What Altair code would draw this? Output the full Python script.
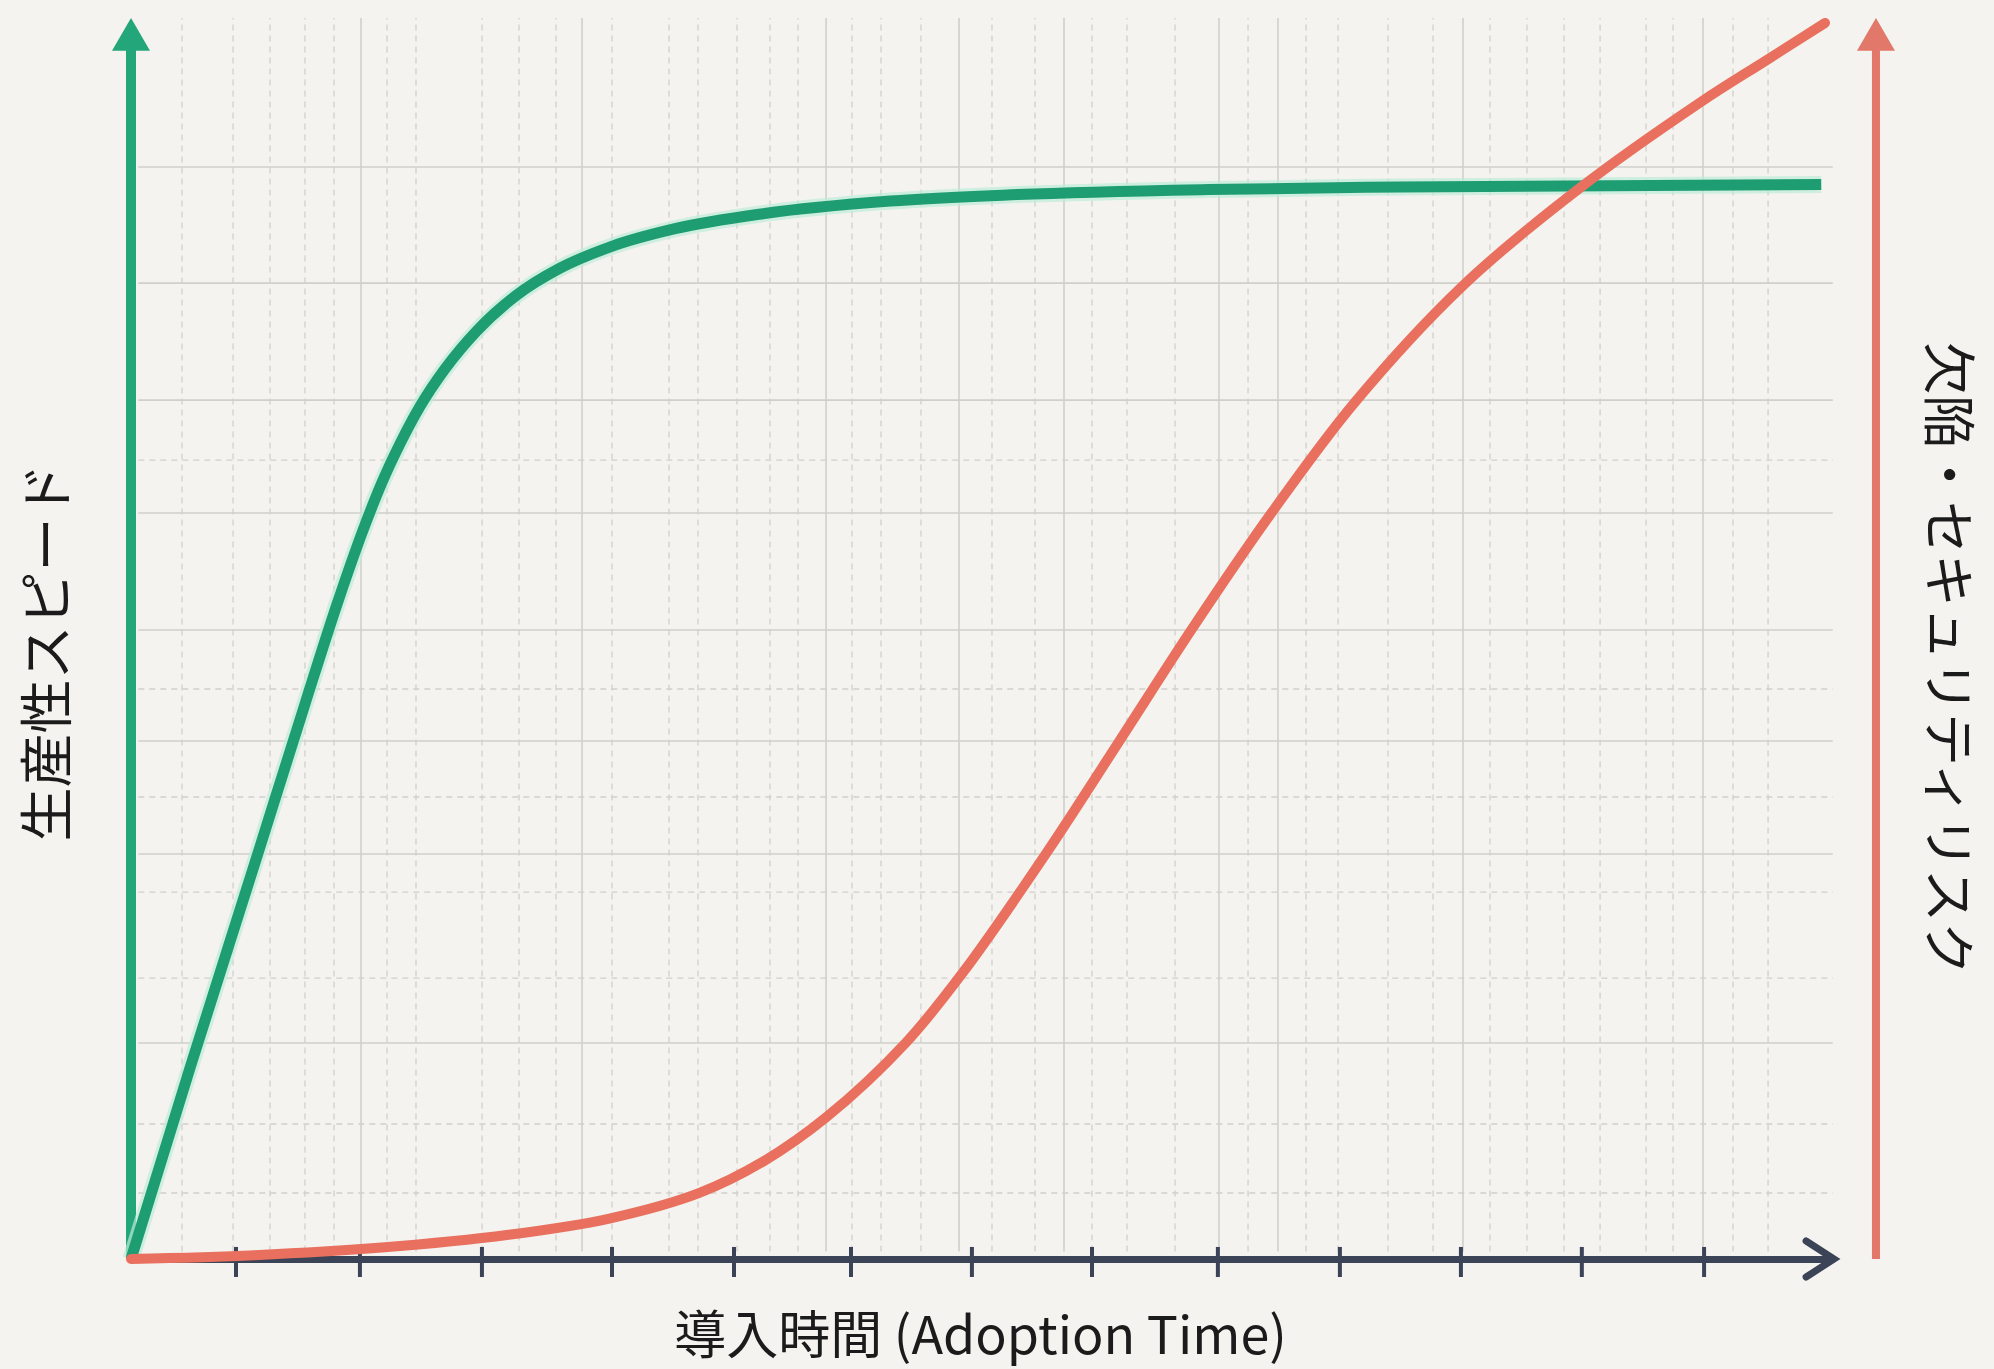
import altair as alt
import pandas as pd

# ---------------- data ----------------
x_title = "導入時間 (Adoption Time)"
left_title = "生産性スピード"
right_title = "欠陥・セキュリティリスク"

# productivity / speed curve (green)
green_x = [0, 0.491, 1.014, 1.432, 1.694, 1.903, 2.060, 2.216, 2.373, 2.582,
           2.844, 3.157, 3.523, 3.941, 4.464, 5.196, 6.242, 7.287, 8.855,
           10.424, 13.895]
green_y = [0, 15.58, 31.77, 44.78, 52.77, 58.61, 62.50, 65.78, 68.65, 71.73,
           74.80, 77.57, 79.82, 81.56, 83.00, 84.23, 85.25, 85.77, 86.18,
           86.38, 86.58]

# defect / security risk curve (red)
red_x = [0, 1.014, 2.060, 3.105, 3.941, 4.673, 5.196, 5.719, 6.367, 6.837,
         7.517, 8.123, 8.719, 9.378, 10.058, 10.946, 11.908, 12.901, 13.445,
         13.926]
red_y = [0, 0.31, 0.92, 1.95, 3.28, 5.33, 7.85, 11.45, 17.40, 23.06,
         32.59, 41.70, 50.72, 60.15, 69.00, 78.40, 86.28, 93.20, 96.60,
         99.60]

# x-axis tick marks (no labels)
tick_x = [0.863, 1.882, 2.885, 3.954, 4.957, 5.919, 6.913, 7.900, 8.935,
          9.938, 10.933, 11.927, 12.932]

# graph-paper background grid
grid_v_solid = [1.891, 3.708, 5.714, 6.807, 7.670, 8.944, 9.429, 10.950, 12.923]
grid_v_dashed = [0.419, 0.839, 1.143, 1.430, 1.669, 2.105, 2.343, 2.886, 3.190,
                 3.494, 3.954, 4.423, 4.661, 4.982, 5.253, 5.483, 5.927, 6.166,
                 6.494, 7.078, 7.432, 7.900, 8.188, 8.583, 9.183, 9.660, 9.923,
                 10.334, 10.704, 11.172, 11.476, 11.781, 12.077, 12.455, 12.677,
                 13.170, 13.458]
grid_h_solid = [87.99, 78.64, 69.21, 60.11, 50.68, 41.74, 32.63, 17.40]
grid_h_dashed = [64.38, 45.93, 37.23, 29.57, 22.64, 10.88, 5.32]

X_MAX = 14
Y_MAX = 100
RED_AXIS_X = 14.345
AXIS_TOP = 97.6          # where the arrow heads begin
GRID_X = [0.06, 13.99]
GRID_Y = [0.6, 100]
TICK_Y = [-1.45, 0.97]

# ---------------- styling ----------------
BG = "#F4F3EF"
GREEN = "#1E9D73"
GREEN_AXIS = "#22A67A"
RED = "#E9705E"
RED_AXIS = "#E27869"
DARK = "#3B4357"
GRID = "#D0D0CB"
FONT = "Noto Sans CJK JP"
TEXT = "#1B1B1B"

W, H = 1703, 1241

xs = alt.Scale(domain=[0, X_MAX], nice=False, zero=False)
ys = alt.Scale(domain=[0, Y_MAX], nice=False, zero=False)


def X(field, axis=None):
    if axis is None:
        return alt.X(field, type="quantitative", scale=xs)
    return alt.X(field, type="quantitative", scale=xs, axis=axis)


def Y(field, axis=None):
    if axis is None:
        return alt.Y(field, type="quantitative", scale=ys)
    return alt.Y(field, type="quantitative", scale=ys, axis=axis)


# ---------------- data frames ----------------
green_df = pd.DataFrame({"x": green_x, "y": green_y})
red_df = pd.DataFrame({"x": red_x, "y": red_y})
vs_df = pd.DataFrame({"x": grid_v_solid, "y0": GRID_Y[0], "y1": GRID_Y[1]})
vd_df = pd.DataFrame({"x": grid_v_dashed, "y0": GRID_Y[0], "y1": GRID_Y[1]})
hs_df = pd.DataFrame({"y": grid_h_solid, "x0": GRID_X[0], "x1": GRID_X[1]})
hd_df = pd.DataFrame({"y": grid_h_dashed, "x0": GRID_X[0], "x1": GRID_X[1]})
tick_df = pd.DataFrame({"x": tick_x, "y0": TICK_Y[0], "y1": TICK_Y[1]})
gaxis_df = pd.DataFrame({"x": [0], "y0": [0], "y1": [AXIS_TOP], "tip": [Y_MAX]})
raxis_df = pd.DataFrame({"x": [RED_AXIS_X], "y0": [0], "y1": [AXIS_TOP], "tip": [Y_MAX]})
xend_df = pd.DataFrame({"x": [X_MAX], "y": [0]})

# ---------------- axes (titles only) ----------------
x_axis = alt.Axis(
    title=x_title, domain=True, domainColor=DARK, domainWidth=7,
    titleX=849, titleY=78, titleBaseline="middle", titleAlign="center",
    titleFontSize=52,
)
left_axis = alt.Axis(
    title=left_title, orient="left",
    titleAngle=270, titleX=-81, titleY=634, titleAlign="center",
    titleBaseline="middle", titleFontSize=54,
)
right_axis = alt.Axis(
    title=right_title, orient="right",
    titleAngle=90, titleX=110, titleY=640, titleAlign="center",
    titleBaseline="middle", titleFontSize=53,
)

# ---------------- left (productivity) group ----------------
grid_vs = alt.Chart(vs_df).mark_rule(color=GRID, strokeWidth=1.6).encode(
    x=X("x"), y=Y("y0"), y2="y1")
grid_vd = alt.Chart(vd_df).mark_rule(color=GRID, strokeWidth=1.3, strokeDash=[6, 5]).encode(
    x=X("x"), y=Y("y0"), y2="y1")
grid_hs = alt.Chart(hs_df).mark_rule(color=GRID, strokeWidth=1.6).encode(
    y=Y("y"), x=X("x0"), x2="x1")
grid_hd = alt.Chart(hd_df).mark_rule(color=GRID, strokeWidth=1.3, strokeDash=[6, 5]).encode(
    y=Y("y"), x=X("x0"), x2="x1")

ticks = alt.Chart(tick_df).mark_rule(color=DARK, strokeWidth=4).encode(
    x=X("x"), y=Y("y0"), y2="y1")
chevron = alt.Chart(xend_df).mark_point(
    shape="M -1.55 -1 L 0 0 L -1.55 1", size=1296, filled=False, color=DARK,
    strokeWidth=7, opacity=1, strokeJoin="miter", strokeCap="round",
).encode(x=X("x"), y=Y("y"))

g_axis = alt.Chart(gaxis_df).mark_rule(color=GREEN_AXIS, strokeWidth=10).encode(
    x=X("x"), y=Y("y0"), y2="y1")
g_head = alt.Chart(gaxis_df).mark_point(
    shape="M 0 0 L 1 1.73 L -1 1.73 Z", size=1444, filled=True, color=GREEN_AXIS,
    opacity=1,
).encode(x=X("x"), y=Y("tip"))

g_halo = alt.Chart(green_df).mark_line(
    color="#BDEBD8", strokeWidth=17, interpolate="monotone", opacity=0.7
).encode(x=X("x"), y=Y("y"))
g_line = alt.Chart(green_df).mark_line(
    color=GREEN, strokeWidth=11, interpolate="monotone", strokeCap="butt"
).encode(x=X("x", x_axis), y=Y("y", left_axis))

left_group = alt.layer(grid_vs, grid_vd, grid_hs, grid_hd, ticks, chevron,
                       g_axis, g_head, g_halo, g_line)

# ---------------- right (risk) group ----------------
r_axis = alt.Chart(raxis_df).mark_rule(color=RED_AXIS, strokeWidth=8).encode(
    x=X("x"), y=Y("y0"), y2="y1")
r_head = alt.Chart(raxis_df).mark_point(
    shape="M 0 0 L 1 1.73 L -1 1.73 Z", size=1444, filled=True, color=RED_AXIS,
    opacity=1,
).encode(x=X("x"), y=Y("tip"))
r_line = alt.Chart(red_df).mark_line(
    color=RED, strokeWidth=10, interpolate="catmull-rom", strokeCap="round"
).encode(x=X("x"), y=Y("y", right_axis))

right_group = alt.layer(r_axis, r_head, r_line)

chart = (
    alt.layer(left_group, right_group)
    .resolve_scale(y="independent")
    .properties(
        width=W, height=H,
        padding={"left": 131, "top": 18, "right": 160, "bottom": 110},
        autosize=alt.AutoSizeParams(type="none"),
        background=BG,
    )
    .configure_view(stroke=None)
    .configure_axis(
        domain=False, ticks=False, labels=False, grid=False,
        titleFont=FONT, titleFontWeight="normal",
        titleColor=TEXT, zindex=0,
    )
)

chart.save("out.html", embed_options={"renderer": "svg", "actions": False})
